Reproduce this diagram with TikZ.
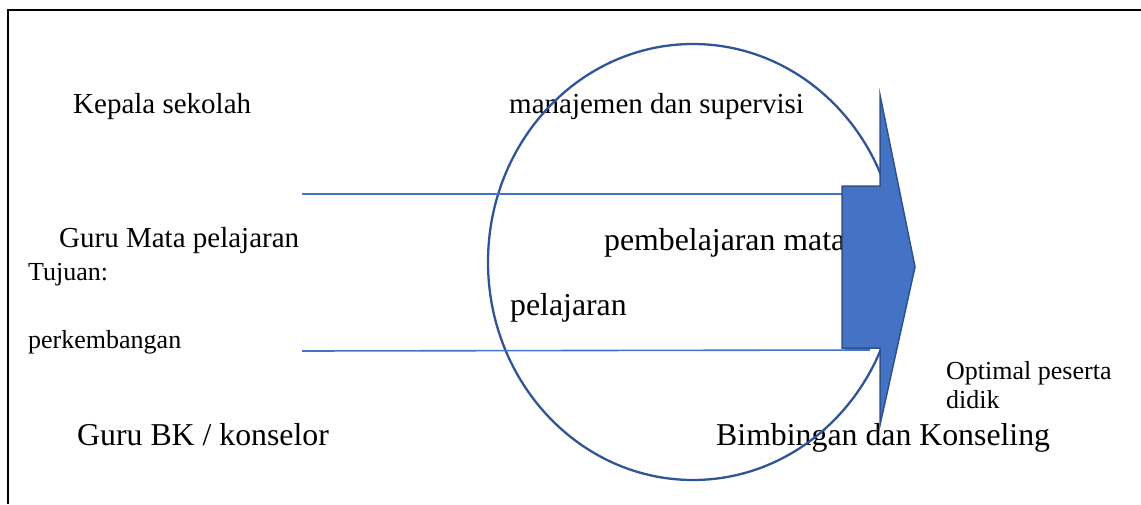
\documentclass[tikz,border=0pt]{standalone}
\usepackage{fontspec}
\setmainfont{Liberation Serif}
\usetikzlibrary{shapes.geometric}
\definecolor{ringblue}{HTML}{2F5597}
\definecolor{lineblue}{HTML}{4472C4}
\definecolor{arrowedge}{HTML}{2F528F}
\tikzset{
  lbl/.style={anchor=base west, inner sep=0pt, text=black},
  big/.style={lbl, font=\fontsize{29}{34}\selectfont},
  bigger/.style={lbl, font=\fontsize{31.8}{36}\selectfont},
  small/.style={lbl, font=\fontsize{26}{30}\selectfont},
  hline/.style={draw=lineblue, line width=1.6pt},
  ring/.style={draw=ringblue, line width=2.3pt, ellipse, minimum width=410pt, minimum height=436pt, inner sep=0pt},
  blockarrow/.style={fill=lineblue, draw=arrowedge, line width=1.5pt, line join=miter}
}
\begin{document}
\begin{tikzpicture}[x=1pt, y=-1pt]
\useasboundingbox (0,0) rectangle (1141,504);
% frame (top and left edges)
\draw[line width=1.5pt, black] (1141,10) -- (8,10) -- (8,504);
% texts
\node[big] (kepala) at (73,113) {Kepala sekolah};
\node[big] (manaj) at (509,113) {manajemen dan supervisi};
\node[big] (gurump) at (59,247) {Guru Mata pelajaran};
\node[small] (tujuan) at (28,280) {Tujuan:};
\node[small] (perk) at (28,348) {perkembangan};
\node[bigger] (pemb) at (604,250) {pembelajaran mata};
\node[bigger] (pel) at (510,315) {pelajaran};
\node[bigger] (gurubk) at (77,445) {Guru BK / konselor};
\node[bigger] (bk) at (716,445) {Bimbingan dan Konseling};
\node[small] (opt1) at (946,379) {Optimal peserta};
\node[small] (opt2) at (946,408) {didik};
% ellipse
\node[ring] (ring) at (693,262) {};
% horizontal lines
\coordinate (l1a) at (302,194);
\coordinate (l1b) at (842,194);
\coordinate (l2a) at (302,351);
\coordinate (l2b) at (870,350);
\draw[hline] (l1a) -- (l1b);
\draw[hline] (l2a) -- (l2b);
% block arrow
\draw[blockarrow] (842,186) -- (880,186) -- (880,95) -- (915,267) -- (880,425) -- (880,348) -- (842,348) -- cycle;
\end{tikzpicture}
\end{document}
